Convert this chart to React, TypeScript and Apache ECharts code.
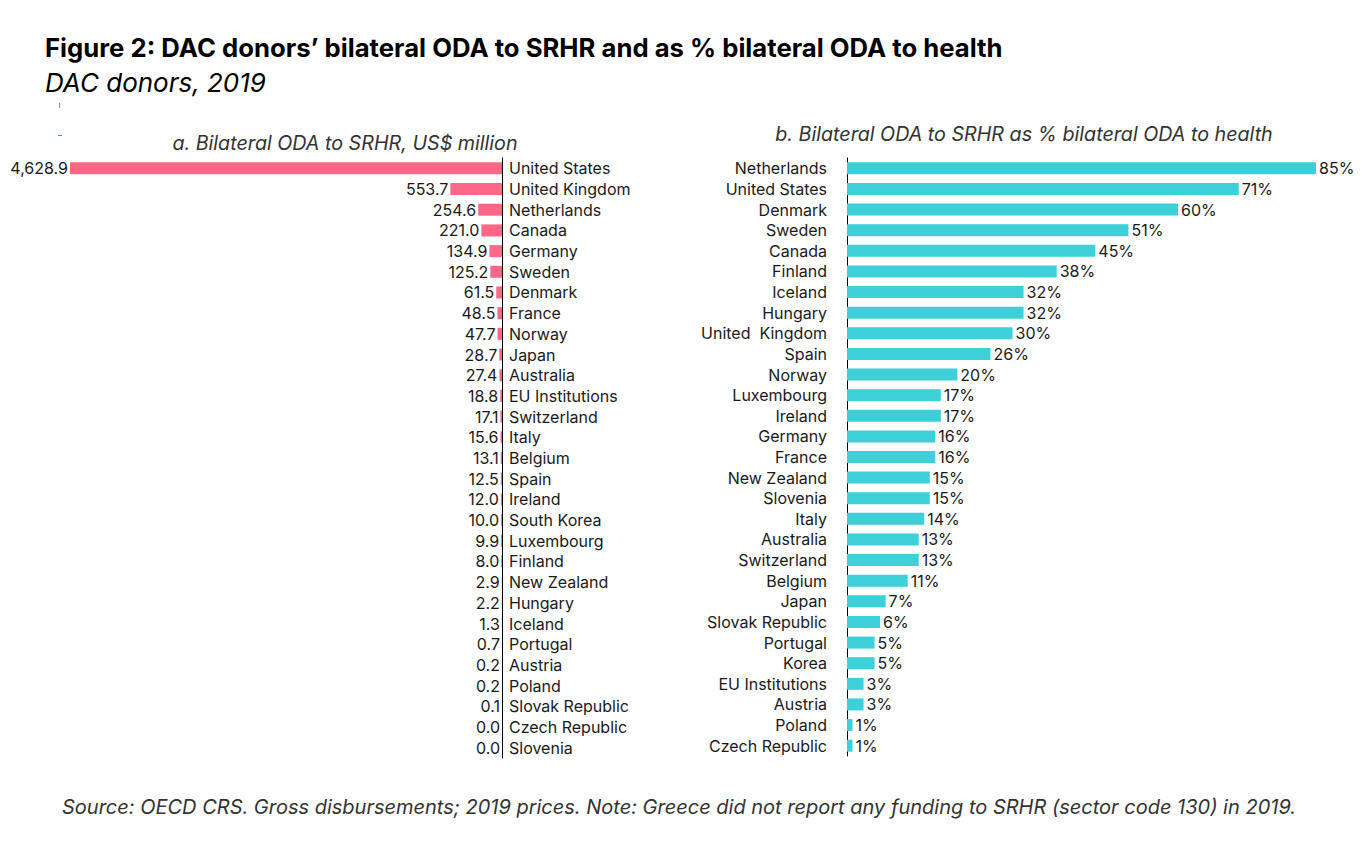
import React, { useEffect, useRef } from "react";
import * as echarts from "echarts";

const leftCountries = [
  "United States", "United Kingdom", "Netherlands", "Canada", "Germany", "Sweden", "Denmark",
  "France", "Norway", "Japan", "Australia", "EU Institutions", "Switzerland", "Italy", "Belgium",
  "Spain", "Ireland", "South Korea", "Luxembourg", "Finland", "New Zealand", "Hungary", "Iceland",
  "Portugal", "Austria", "Poland", "Slovak Republic", "Czech Republic", "Slovenia",
];
const leftValues = [
  4628.9, 553.7, 254.6, 221.0, 134.9, 125.2, 61.5, 48.5, 47.7, 28.7, 27.4, 18.8, 17.1, 15.6, 13.1,
  12.5, 12.0, 10.0, 9.9, 8.0, 2.9, 2.2, 1.3, 0.7, 0.2, 0.2, 0.1, 0.0, 0.0,
];

const rightCountries = [
  "Netherlands", "United States", "Denmark", "Sweden", "Canada", "Finland", "Iceland", "Hungary",
  "United  Kingdom", "Spain", "Norway", "Luxembourg", "Ireland", "Germany", "France", "New Zealand",
  "Slovenia", "Italy", "Australia", "Switzerland", "Belgium", "Japan", "Slovak Republic", "Portugal",
  "Korea", "EU Institutions", "Austria", "Poland", "Czech Republic",
];
const rightValues = [
  85, 71, 60, 51, 45, 38, 32, 32, 30, 26, 20, 17, 17, 16, 16, 15, 15, 14, 13, 13, 11, 7, 6, 5, 5, 3,
  3, 1, 1,
];

const titleText = "Figure 2: DAC donors’ bilateral ODA to SRHR and as % bilateral ODA to health";
const subtitleText = "DAC donors, 2019";
const panelA = "a. Bilateral ODA to SRHR, US$ million";
const panelB = "b. Bilateral ODA to SRHR as % bilateral ODA to health";
const footerText =
  "Source: OECD CRS. Gross disbursements; 2019 prices. Note: Greece did not report any funding to SRHR (sector code 130) in 2019.";

const FONT = "Inter, Roboto, sans-serif";
const PINK = "#FF6788";
const TEAL = "#3DD0D8";

export default function App() {
  const ref = useRef<HTMLDivElement>(null);
  useEffect(() => {
    document.body.style.margin = "0";
    const chart = echarts.init(ref.current!, null, { renderer: "svg" });
    const fmt = (v: number) =>
      v.toLocaleString("en-US", { minimumFractionDigits: 1, maximumFractionDigits: 1 });
    chart.setOption({
      animation: false,
      backgroundColor: "#ffffff",
      textStyle: { fontFamily: FONT },
      grid: [
        { left: 70, width: 432, top: 158, height: 600 },
        { left: 847, width: 469, top: 158, height: 598 },
      ],
      xAxis: [
        { type: "value", gridIndex: 0, inverse: true, min: 0, max: 4628.9, show: false },
        { type: "value", gridIndex: 1, min: 0, max: 85, show: false },
      ],
      yAxis: [
        {
          type: "category",
          gridIndex: 0,
          data: leftCountries,
          inverse: true,
          position: "right",
          axisLine: { show: true, lineStyle: { color: "#000", width: 1 } },
          axisTick: { show: false },
          axisLabel: {
            interval: 0,
            align: "left",
            margin: 7,
            color: "#1a1a1a",
            fontSize: 16,
            fontFamily: FONT,
          },
          splitLine: { show: false },
        },
        {
          type: "category",
          gridIndex: 1,
          data: rightCountries,
          inverse: true,
          position: "left",
          axisLine: { show: true, lineStyle: { color: "#000", width: 1 } },
          axisTick: { show: false },
          axisLabel: {
            interval: 0,
            align: "right",
            margin: 20,
            color: "#1a1a1a",
            fontSize: 16,
            fontFamily: FONT,
          },
          splitLine: { show: false },
        },
      ],
      series: [
        {
          type: "bar",
          xAxisIndex: 0,
          yAxisIndex: 0,
          data: leftValues,
          barWidth: 12,
          itemStyle: { color: PINK },
          label: {
            show: true,
            position: "left",
            distance: 2,
            color: "#1a1a1a",
            fontSize: 16,
            fontFamily: FONT,
            formatter: (p: any) => fmt(p.value),
          },
        },
        {
          type: "bar",
          xAxisIndex: 1,
          yAxisIndex: 1,
          data: rightValues,
          barWidth: 12,
          itemStyle: { color: TEAL },
          label: {
            show: true,
            position: "right",
            distance: 3,
            color: "#1a1a1a",
            fontSize: 16,
            fontFamily: FONT,
            formatter: (p: any) => `${p.value}%`,
          },
        },
      ],
      graphic: [
        {
          type: "text",
          x: 45,
          y: 47,
          style: {
            text: titleText,
            font: `bold 25.7px ${FONT}`,
            fill: "#000",
            verticalAlign: "middle",
          },
        },
        {
          type: "text",
          x: 45,
          y: 82,
          style: {
            text: subtitleText,
            font: `italic 26px ${FONT}`,
            fill: "#000",
            verticalAlign: "middle",
          },
        },
        {
          type: "text",
          x: 345,
          y: 143,
          style: {
            text: panelA,
            font: `italic 19.7px ${FONT}`,
            fill: "#333",
            align: "center",
            verticalAlign: "middle",
          },
        },
        {
          type: "text",
          x: 1024,
          y: 134,
          style: {
            text: panelB,
            font: `italic 19.7px ${FONT}`,
            fill: "#333",
            align: "center",
            verticalAlign: "middle",
          },
        },
        {
          type: "text",
          x: 62,
          y: 807,
          style: {
            text: footerText,
            font: `italic 20px ${FONT}`,
            fill: "#333",
            verticalAlign: "middle",
          },
        },
        {
          type: "line",
          shape: { x1: 59.5, y1: 103, x2: 59.5, y2: 108 },
          style: { stroke: "#7a9a9a", lineWidth: 1 },
        },
        {
          type: "line",
          shape: { x1: 58, y1: 135.5, x2: 62, y2: 135.5 },
          style: { stroke: "#3aa6a6", lineWidth: 1 },
        },
      ],
    });
    return () => chart.dispose();
  }, []);
  return <div ref={ref} style={{ width: 1369, height: 843 }} />;
}
